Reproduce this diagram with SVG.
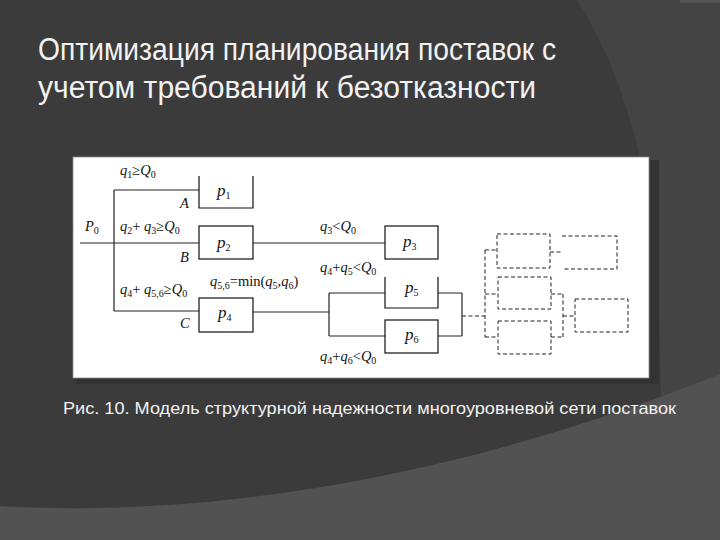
<svg xmlns="http://www.w3.org/2000/svg" width="720" height="540" viewBox="0 0 720 540">
<style>
.title{font-family:"Liberation Sans Narrow","Liberation Sans",Arial,sans-serif;font-size:31px;fill:#f2f2f2}
.cap{font-family:"Liberation Sans",Arial,sans-serif;font-size:16.5px;fill:#f2f2f2}
.m{font-family:"Liberation Serif","Times New Roman",serif;font-size:14.5px;fill:#111}
.p{font-family:"Liberation Serif","Times New Roman",serif;font-size:17px;fill:#111}
.i{font-style:italic}
.s{font-size:10px}
.box{fill:none;stroke:#111;stroke-width:1.2}
.ln{fill:none;stroke:#222;stroke-width:1.2}
.dbox{fill:none;stroke:#222;stroke-width:1;stroke-dasharray:4 2.5}
.dl{fill:none;stroke:#222;stroke-width:1;stroke-dasharray:4 2.5}
</style>
<rect width="720" height="540" fill="#3b3b3b"/>
<path d="M577,0 L720,0 L720,540 L664,540 L661,390 C659,260 652,120 577,0 Z" fill="#444444"/>
<rect x="680" y="0" width="40" height="3" fill="#555"/>
<path d="M0,506 C200,518 450,482 720,374 L720,540 L0,540 Z" fill="#525252"/>
<rect x="649" y="160" width="10" height="224" fill="#333"/>
<rect x="76" y="378" width="583" height="6" fill="#333"/>
<text class="title" x="38" y="60" textLength="518" lengthAdjust="spacingAndGlyphs">Оптимизация планирования поставок с</text>
<text class="title" x="38" y="98" textLength="498" lengthAdjust="spacingAndGlyphs">учетом требований к безотказности</text>
<rect x="73" y="157" width="576" height="221" fill="#ffffff" stroke="#8a8a8a" stroke-width="0.8"/>
<g id="connectors">
<path class="ln" d="M80,243 H199 M114,190 V311 M114,190 H199 M114,311 H199 M253,243 H385 M253,312 H329 M329,293 V336 M329,293 H385 M329,336 H385 M438,293 H462 M438,336 H462 M462,293 V336"/>
<path class="dl" d="M462,316 H485 M485,250 V337 M485,250 H497 M485,294 H498 M485,337 H498 M550,252 H563 M551,294 H563 M563,294 V337 M551,337 H563 M563,316 H575"/>
</g>
<g id="p1"><path class="box" d="M199,176 V208 H253 V176"/><text class="p" x="217" y="196"><tspan class="i">p</tspan><tspan class="s" dy="3">1</tspan></text></g>
<g id="p2"><rect class="box" x="199" y="226" width="54" height="33"/><text class="p" x="217" y="248"><tspan class="i">p</tspan><tspan class="s" dy="3">2</tspan></text></g>
<g id="p3"><rect class="box" x="385" y="226" width="53" height="33"/><text class="p" x="403" y="247"><tspan class="i">p</tspan><tspan class="s" dy="3">3</tspan></text></g>
<g id="p4"><rect class="box" x="199" y="298" width="54" height="34"/><text class="p" x="218" y="318"><tspan class="i">p</tspan><tspan class="s" dy="3">4</tspan></text></g>
<g id="p5"><path class="box" d="M385,277 V308 H438 V277"/><text class="p" x="405" y="293"><tspan class="i">p</tspan><tspan class="s" dy="3">5</tspan></text></g>
<g id="p6"><rect class="box" x="385" y="320" width="53" height="33"/><text class="p" x="405" y="340"><tspan class="i">p</tspan><tspan class="s" dy="3">6</tspan></text></g>
<g id="d1"><rect class="dbox" x="497" y="234" width="53" height="34"/></g>
<g id="d2"><rect class="dbox" x="498" y="277" width="53" height="32"/></g>
<g id="d3"><rect class="dbox" x="498" y="321" width="53" height="33"/></g>
<g id="d4"><path class="dbox" d="M562,236 H617 V269 H562"/></g>
<g id="d5"><rect class="dbox" x="575" y="299" width="53" height="33"/></g>
<g id="labels">
<text class="m" x="120" y="175"><tspan class="i">q</tspan><tspan class="s" dy="3">1</tspan><tspan dy="-3">≥</tspan><tspan class="i">Q</tspan><tspan class="s" dy="3">0</tspan></text>
<text class="m i" x="180" y="208">A</text>
<text class="m" x="85" y="231"><tspan class="i">P</tspan><tspan class="s" dy="3">0</tspan></text>
<text class="m" x="120" y="231"><tspan class="i">q</tspan><tspan class="s" dy="3">2</tspan><tspan dy="-3">+ </tspan><tspan class="i">q</tspan><tspan class="s" dy="3">3</tspan><tspan dy="-3">≥</tspan><tspan class="i">Q</tspan><tspan class="s" dy="3">0</tspan></text>
<text class="m i" x="180" y="262">B</text>
<text class="m" x="210" y="286"><tspan class="i">q</tspan><tspan class="s" dy="3">5,6</tspan><tspan dy="-3">=min(</tspan><tspan class="i">q</tspan><tspan class="s" dy="3">5</tspan><tspan dy="-3">,</tspan><tspan class="i">q</tspan><tspan class="s" dy="3">6</tspan><tspan dy="-3">)</tspan></text>
<text class="m" x="120" y="294"><tspan class="i">q</tspan><tspan class="s" dy="3">4</tspan><tspan dy="-3">+ </tspan><tspan class="i">q</tspan><tspan class="s" dy="3">5,6</tspan><tspan dy="-3">≥</tspan><tspan class="i">Q</tspan><tspan class="s" dy="3">0</tspan></text>
<text class="m i" x="180" y="328">C</text>
<text class="m" x="320" y="231"><tspan class="i">q</tspan><tspan class="s" dy="3">3</tspan><tspan dy="-3">&lt;</tspan><tspan class="i">Q</tspan><tspan class="s" dy="3">0</tspan></text>
<text class="m" x="320" y="272"><tspan class="i">q</tspan><tspan class="s" dy="3">4</tspan><tspan dy="-3">+</tspan><tspan class="i">q</tspan><tspan class="s" dy="3">5</tspan><tspan dy="-3">&lt;</tspan><tspan class="i">Q</tspan><tspan class="s" dy="3">0</tspan></text>
<text class="m" x="320" y="361"><tspan class="i">q</tspan><tspan class="s" dy="3">4</tspan><tspan dy="-3">+</tspan><tspan class="i">q</tspan><tspan class="s" dy="3">6</tspan><tspan dy="-3">&lt;</tspan><tspan class="i">Q</tspan><tspan class="s" dy="3">0</tspan></text>
</g>
<text class="cap" x="63" y="414" textLength="613" lengthAdjust="spacingAndGlyphs">Рис. 10. Модель структурной надежности многоуровневой сети поставок</text>
</svg>
